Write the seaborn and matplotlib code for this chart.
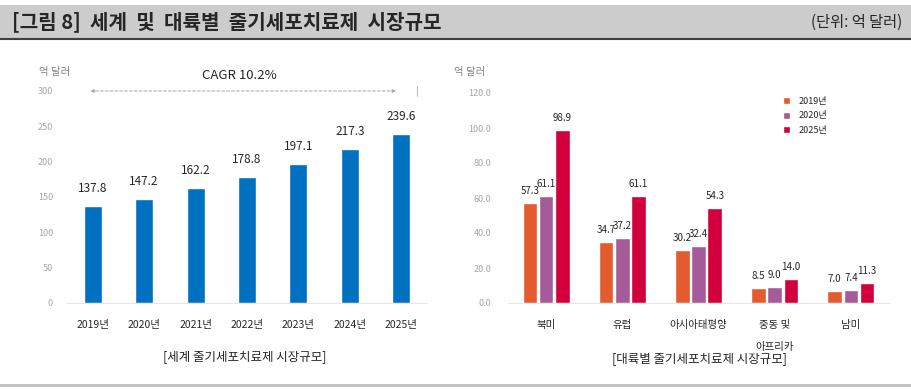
import numpy as np
import pandas as pd
import matplotlib.pyplot as plt
import seaborn as sns

sns.set_style("white")
plt.rcParams['font.family'] = ['Noto Sans CJK KR', 'DejaVu Sans']

# Data
years = ['2019년', '2020년', '2021년', '2022년', '2023년', '2024년', '2025년']
world_values = [137.8, 147.2, 162.2, 178.8, 197.1, 217.3, 239.6]

regions = ['북미', '유럽', '아시아태평양', '중동 및\n아프리카', '남미']
series_names = ['2019년', '2020년', '2025년']
vals_2019 = [57.3, 34.7, 30.2, 8.5, 7.0]
vals_2020 = [61.1, 37.2, 32.4, 9.0, 7.4]
vals_2025 = [98.9, 61.1, 54.3, 14.0, 11.3]

world_ticks = [0, 50, 100, 150, 200, 250, 300]
region_ticks = [0, 20, 40, 60, 80, 100, 120]

blue = '#0070C0'
region_colors = ['#E35B2E', '#A65B99', '#D2003C']
tick_gray = '#A6A6A6'

fig = plt.figure(figsize=(9.11, 3.91), dpi=100)

# Header band
fig.patches.append(plt.Rectangle((0.0, 1 - 38 / 391), 1.0, 33 / 391, transform=fig.transFigure,
                                 facecolor='#CCCCCC', edgecolor='none', zorder=0))
fig.lines.append(plt.Line2D([0, 1], [1 - 39 / 391] * 2, transform=fig.transFigure, color='#404040', lw=1.5))
fig.lines.append(plt.Line2D([0, 1], [1 - 385 / 391] * 2, transform=fig.transFigure, color='#BFBFBF', lw=2))
fig.text(12 / 911, 1 - 22 / 391, '[그림 8]  세계  및  대륙별  줄기세포치료제  시장규모', fontsize=14.5,
         fontweight='bold', va='center', ha='left')
fig.text(902 / 911, 1 - 22 / 391, '(단위: 억 달러)', fontsize=11, va='center', ha='right')

# Left chart: world market
ax1 = fig.add_axes([67 / 911, 1 - 303 / 391, 360 / 911, 212 / 391])
df_world = pd.DataFrame({'year': years, 'value': world_values})
sns.barplot(data=df_world, x='year', y='value', color=blue, width=0.35, saturation=1, ax=ax1)
ax1.bar_label(ax1.containers[0], fmt='%.1f', padding=8, fontsize=8.5)
ax1.set_ylim(0, 300)
ax1.set_xlim(-0.5, 6.5)
ax1.set_yticks(world_ticks)
ax1.tick_params(axis='y', labelsize=6.5, labelcolor=tick_gray, length=0, pad=10)
ax1.tick_params(axis='x', labelsize=7.5, length=0, pad=12)
ax1.set_xlabel('')
ax1.set_ylabel('')
for s in ['top', 'right', 'left']:
    ax1.spines[s].set_visible(False)
ax1.spines['bottom'].set_color('#E6E6E6')
fig.text(55 / 911, 1 - 72 / 391, '억 달러', fontsize=7.5, color='#808080', ha='center', va='center')

# CAGR arrow
ax1.annotate('', xy=(-0.1, 300), xytext=(5.95, 300), xycoords='data',
             arrowprops=dict(arrowstyle='<|-|>', linestyle=(0, (3, 2)), color='#A6A6A6', lw=0.7,
                             mutation_scale=5), annotation_clip=False)
ax1.plot([6.3, 6.3], [293, 307], color='#BFBFBF', lw=0.8, clip_on=False)
ax1.text(2.85, 322, 'CAGR 10.2%', fontsize=9.5, ha='center', va='center')

fig.text(245 / 911, 1 - 357 / 391, '[세계 줄기세포치료제 시장규모]', fontsize=9, ha='center', va='center')

# Right chart: by region
ax2 = fig.add_axes([508 / 911, 1 - 303 / 391, 381 / 911, 210 / 391])
df_region = pd.DataFrame({
    'region': regions * 3,
    'series': np.repeat(series_names, len(regions)),
    'value': vals_2019 + vals_2020 + vals_2025,
})
sns.barplot(data=df_region, x='region', y='value', hue='series', palette=region_colors,
            width=0.64, gap=0.1, saturation=1, ax=ax2)
for c in ax2.containers:
    ax2.bar_label(c, fmt='%.1f', padding=5, fontsize=7)
ax2.set_ylim(0, 120)
ax2.set_xlim(-0.5, 4.5)
ax2.set_yticks(region_ticks)
ax2.set_yticklabels([f'{t:.1f}' for t in region_ticks])
ax2.tick_params(axis='y', labelsize=6.5, labelcolor=tick_gray, length=0, pad=12)
ax2.tick_params(axis='x', labelsize=7.5, length=0, pad=12)
for lbl in ax2.get_xticklabels():
    lbl.set_linespacing(2.5)
    lbl.set_va('top')
ax2.set_xlabel('')
ax2.set_ylabel('')
for s in ['top', 'right', 'left']:
    ax2.spines[s].set_visible(False)
ax2.spines['bottom'].set_color('#E6E6E6')
leg = ax2.legend(loc='upper left', bbox_to_anchor=(0.7, 1.02), frameon=False, fontsize=6.5,
                 handlelength=0.8, handleheight=0.8, handletextpad=1.0, labelspacing=0.6)
fig.text(470 / 911, 1 - 72 / 391, '억 달러', fontsize=7.5, color='#808080', ha='center', va='center')

fig.text(700 / 911, 1 - 359 / 391, '[대륙별 줄기세포치료제 시장규모]', fontsize=9, ha='center', va='center')

fig.savefig('out.png', dpi=100)
